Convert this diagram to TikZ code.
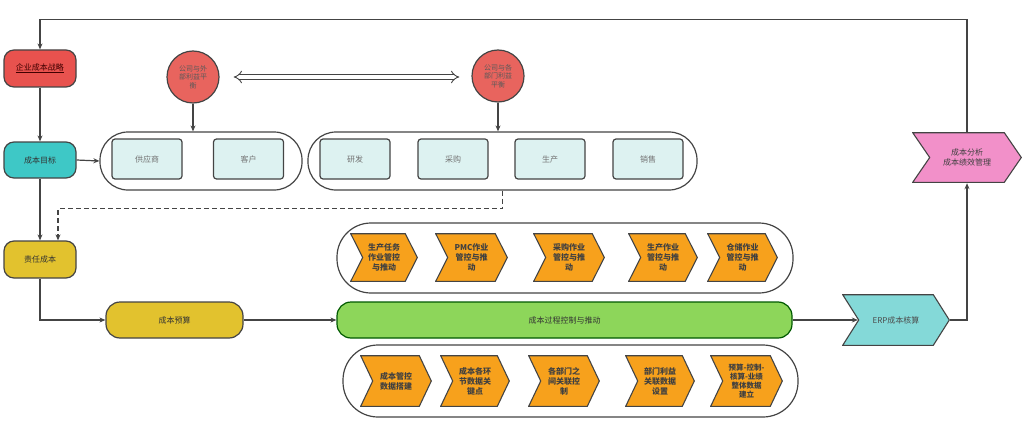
\documentclass[tikz,border=0pt]{standalone}
\usepackage{fontspec}
\setmainfont{Noto Sans CJK SC}
\usetikzlibrary{arrows.meta,calc}
\definecolor{lnc}{HTML}{444444}
\definecolor{redf}{HTML}{E8524E}
\definecolor{circf}{HTML}{E8645E}
\definecolor{tealf}{HTML}{3EC8C6}
\definecolor{yelf}{HTML}{E2C22E}
\definecolor{greenf}{HTML}{8DD65A}
\definecolor{orf}{HTML}{F7A11C}
\definecolor{boxf}{HTML}{DDF2F1}
\definecolor{erpf}{HTML}{84D9D8}
\definecolor{pinkf}{HTML}{F290C9}
\tikzset{
  chevdepth/.initial=12pt,
  chevcolor/.initial=orf,
  base/.style={font=\fontsize{8}{10}\selectfont, text=black!80, align=center, inner sep=0pt},
  rbox/.style={base, draw=lnc, line width=1.2pt, rounded corners=10pt},
  cont/.style={draw=lnc, line width=1.2pt, minimum height=#1, rounded corners=#1/2-1pt, inner sep=0pt},
  lbox/.style={base, draw=lnc, line width=1.2pt, fill=boxf, minimum width=70pt, minimum height=40pt, rounded corners=3pt, text=black!55},
  circ/.style={base, circle, draw=lnc, line width=1.2pt, fill=circf, minimum size=52pt, font=\fontsize{7}{8.5}\selectfont, text=black!65},
  chevron/.style={base, rectangle, draw=none,
    path picture={
      \path[draw=lnc, line width=1.1pt, fill=\pgfkeysvalueof{/tikz/chevcolor}]
        ([shift={(0.7pt,-0.7pt)}]path picture bounding box.north west)
        -- ([shift={(-\pgfkeysvalueof{/tikz/chevdepth}-0.7pt,-0.7pt)}]path picture bounding box.north east)
        -- ([shift={(-0.7pt,0pt)}]path picture bounding box.east)
        -- ([shift={(-\pgfkeysvalueof{/tikz/chevdepth}-0.7pt,0.7pt)}]path picture bounding box.south east)
        -- ([shift={(0.7pt,0.7pt)}]path picture bounding box.south west)
        -- ([shift={(\pgfkeysvalueof{/tikz/chevdepth}+0.7pt,0pt)}]path picture bounding box.west)
        -- cycle;
    }},
  och/.style={chevron, font=\fontsize{8}{10}\selectfont\bfseries, text=black!75},
  conn/.style={draw=lnc, line width=1.2pt, -{Stealth[length=6pt,width=5pt]}},
}
\begin{document}
\begin{tikzpicture}[x=1pt,y=-1pt]
\useasboundingbox (0,0) rectangle (1024,433);

% left column
\node[rbox, fill=redf, minimum width=72pt, minimum height=37pt, text=red!25!black] (strat) at (40,68.5) {\underline{企业成本战略}};
\node[rbox, fill=tealf, minimum width=72pt, minimum height=36pt] (goal) at (40,160) {成本目标};
\node[rbox, fill=yelf, minimum width=72pt, minimum height=37pt] (resp) at (40,259.5) {责任成本};
\node[rbox, fill=yelf, minimum width=137pt, minimum height=36pt, rounded corners=14pt] (budget) at (174.5,320) {成本预算};
\node[rbox, fill=greenf, minimum width=455pt, minimum height=36pt, rounded corners=14pt, draw=green!35!black] (proc) at (564.5,320) {成本过程控制与推动};

% circles
\node[circ] (circ1) at (193,77) {公司与外\\部利益平\\衡};
\node[circ] (circ2) at (498,76) {公司与各\\部门利益\\平衡};

% containers
\node[cont=58pt, minimum width=202pt] (c1) at (201,161) {};
\node[cont=58pt, minimum width=389pt] (c2) at (502.5,161) {};
\node[cont=70pt, minimum width=456pt] (c3) at (565,258) {};
\node[cont=72pt, minimum width=455pt] (c4) at (570.5,381) {};

% light boxes
\node[lbox] (sup) at (147,159) {供应商};
\node[lbox] (cust) at (248.5,159) {客户};
\node[lbox] (rd) at (355,159) {研发};
\node[lbox] (pur) at (453,159) {采购};
\node[lbox] (prd) at (550,159) {生产};
\node[lbox] (sal) at (648,159) {销售};

% top orange chevrons
\node[och, minimum width=68pt, minimum height=49pt] (t1) at (384,257.5) {生产任务\\作业管控\\与推动};
\node[och, minimum width=73pt, minimum height=49pt] (t2) at (471.5,257.5) {PMC作业\\管控与推\\动};
\node[och, minimum width=72pt, minimum height=49pt] (t3) at (569,257.5) {采购作业\\管控与推\\动};
\node[och, minimum width=70pt, minimum height=49pt] (t4) at (663,257.5) {生产作业\\管控与推\\动};
\node[och, minimum width=71pt, minimum height=49pt] (t5) at (742.5,257.5) {仓储作业\\管控与推\\动};

% bottom orange chevrons
\node[och, minimum width=72pt, minimum height=52pt] (b1) at (396,381) {成本管控\\数据搭建};
\node[och, minimum width=70pt, minimum height=52pt] (b2) at (475,381) {成本各环\\节数据关\\键点};
\node[och, minimum width=72pt, minimum height=52pt] (b3) at (564,381) {各部门之\\间关联控\\制};
\node[och, minimum width=70pt, minimum height=52pt] (b4) at (660,381) {部门利益\\关联数据\\设置};
\node[och, minimum width=73pt, minimum height=52pt, font=\fontsize{7.5}{9}\selectfont\bfseries] (b5) at (746.5,381) {预算-控制-\\核算-业绩\\整体数据\\建立};

% ERP and pink
\node[chevron, chevcolor=erpf, chevdepth=16pt, minimum width=108pt, minimum height=52pt, text=black!70] (erp) at (896,320) {ERP成本核算};
\node[chevron, chevcolor=pinkf, chevdepth=17pt, minimum width=110pt, minimum height=51pt, text=black!75] (pink) at (967,157.5) {成本分析\\成本绩效管理};

% connectors
\draw[conn] (pink.north) -- ++(0,-112.5) -| (strat.north);
\draw[conn] (strat.south) -- (goal.north);
\draw[conn] (goal.south) -- (resp.north);
\draw[conn] (goal.east) -- (c1.west);
\draw[conn] (circ1.south) -- (circ1.south |- c1.north);
\draw[conn] (circ2.south) -- (circ2.south |- c2.north);
\draw[draw=lnc, line width=0.9pt, double=white, double distance=3.5pt, {Implies[length=8pt]}-{Implies[length=8pt]}, shorten <=14pt, shorten >=12pt] (circ1.east) -- (circ2.west |- circ1.east);
\draw[conn, dashed, dash pattern=on 5pt off 3pt] (c2.south) -- ++(0,18) -| ([xshift=18pt]resp.north);
\draw[conn] (resp.south) |- (budget.west);
\draw[conn] (budget.east) -- (proc.west);
\draw[conn] (proc.east) -- ([xshift=16pt]erp.west);
\draw[conn] (erp.east) -| (pink.south);
\end{tikzpicture}
\end{document}
